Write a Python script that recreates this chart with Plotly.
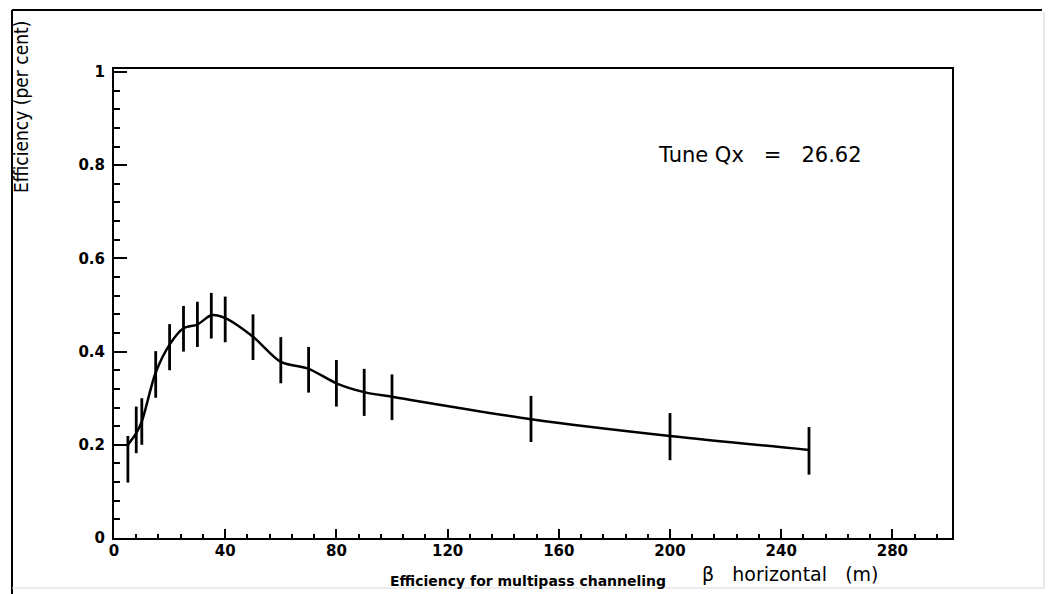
import plotly.graph_objects as go

# Data
beta_h = [5, 8, 10, 15, 20, 25, 30, 35, 40, 50, 60, 70, 80, 90, 100, 150, 200, 250]
efficiency = [0.200, 0.225, 0.250, 0.355, 0.415, 0.450, 0.458, 0.478, 0.472,
              0.432, 0.378, 0.363, 0.332, 0.313, 0.303, 0.255, 0.219, 0.189]
err_upper = [0.219, 0.282, 0.300, 0.401, 0.459, 0.498, 0.507, 0.526, 0.518,
             0.480, 0.431, 0.410, 0.382, 0.363, 0.351, 0.305, 0.268, 0.238]
err_lower = [0.119, 0.182, 0.200, 0.301, 0.360, 0.400, 0.410, 0.428, 0.420,
             0.382, 0.332, 0.312, 0.282, 0.262, 0.253, 0.206, 0.167, 0.136]

x_ticks = [0, 40, 80, 120, 160, 200, 240, 280]
y_ticks = [0, 0.2, 0.4, 0.6, 0.8, 1]
y_ticktext = ["0", "0.2", "0.4", "0.6", "0.8", "1"]

W, H = 1049, 594
L, R, T, B = 114, 97, 69, 56
PW, PH = W - L - R, H - T - B


def px(x):
    return (x - L) / PW


def py(y):
    return (H - B - y) / PH


plus = [u - v for u, v in zip(err_upper, efficiency)]
minus = [v - d for v, d in zip(efficiency, err_lower)]

fig = go.Figure()
fig.add_trace(go.Scatter(
    x=beta_h, y=efficiency, mode="lines",
    line=dict(color="black", width=2.5, shape="spline", smoothing=0.8),
    error_y=dict(type="data", symmetric=False, array=plus, arrayminus=minus,
                 color="black", thickness=2.8, width=0),
    showlegend=False,
))

tickfont = dict(family="DejaVu Sans", size=15, color="black", weight="bold")

fig.update_xaxes(
    range=[0, PW / 2.78], tickvals=x_ticks, ticks="inside", ticklen=9, tickwidth=1.5,
    tickcolor="black", showline=True, linecolor="black", linewidth=2, mirror=True,
    showgrid=False, zeroline=False, tickfont=tickfont, ticklabelstandoff=-2,
    minor=dict(dtick=8, ticks="inside", ticklen=4, tickwidth=1.5, tickcolor="black", showgrid=False),
)
fig.update_yaxes(
    range=[0, PH / 466], tickvals=y_ticks, ticktext=y_ticktext, ticks="inside",
    ticklen=13, tickwidth=1.5, tickcolor="black", showline=True, linecolor="black",
    linewidth=2, mirror=True, showgrid=False, zeroline=False, tickfont=tickfont,
    ticklabelstandoff=4,
    minor=dict(dtick=0.04, ticks="inside", ticklen=6, tickwidth=1.5, tickcolor="black", showgrid=False),
)

annotations = [
    dict(text="Efficiency (per cent)", textangle=-90, x=px(21), y=py(19),
         xanchor="center", yanchor="top", showarrow=False,
         font=dict(family="Liberation Sans Narrow, DejaVu Sans Condensed", size=19, color="black")),
    dict(text="Tune Qx   =   26.62", x=px(760), y=py(155), xanchor="center", yanchor="middle",
         showarrow=False, font=dict(family="DejaVu Sans", size=21, color="black")),
    dict(text="β   horizontal   (m)", x=px(790), y=py(574), xanchor="center", yanchor="middle",
         showarrow=False, font=dict(family="DejaVu Sans", size=19, color="black")),
    dict(text="Efficiency for multipass channeling", x=px(528), y=py(581),
         xanchor="center", yanchor="middle", showarrow=False,
         font=dict(family="DejaVu Sans", size=14, color="black", weight="bold")),
]
for a in annotations:
    a["xref"] = "paper"
    a["yref"] = "paper"

shapes = [
    dict(type="line", xref="paper", yref="paper", x0=px(12), x1=px(12), y0=py(10), y1=py(594),
         line=dict(color="black", width=2)),
    dict(type="line", xref="paper", yref="paper", x0=px(12), x1=px(1042), y0=py(10), y1=py(10),
         line=dict(color="black", width=2)),
    dict(type="line", xref="paper", yref="paper", x0=px(1044), x1=px(1044), y0=py(12), y1=py(588),
         line=dict(color="#d0d0d0", width=1)),
    dict(type="line", xref="paper", yref="paper", x0=px(12), x1=px(1044), y0=py(588), y1=py(588),
         line=dict(color="#d8d8d8", width=1)),
]

fig.update_layout(
    width=W, height=H, margin=dict(l=L, r=R, t=T, b=B, autoexpand=False),
    paper_bgcolor="white", plot_bgcolor="white",
    annotations=annotations, shapes=shapes,
)

fig.write_html("out.html", config={"displayModeBar": False},
               post_script="document.body.style.margin='0';")
